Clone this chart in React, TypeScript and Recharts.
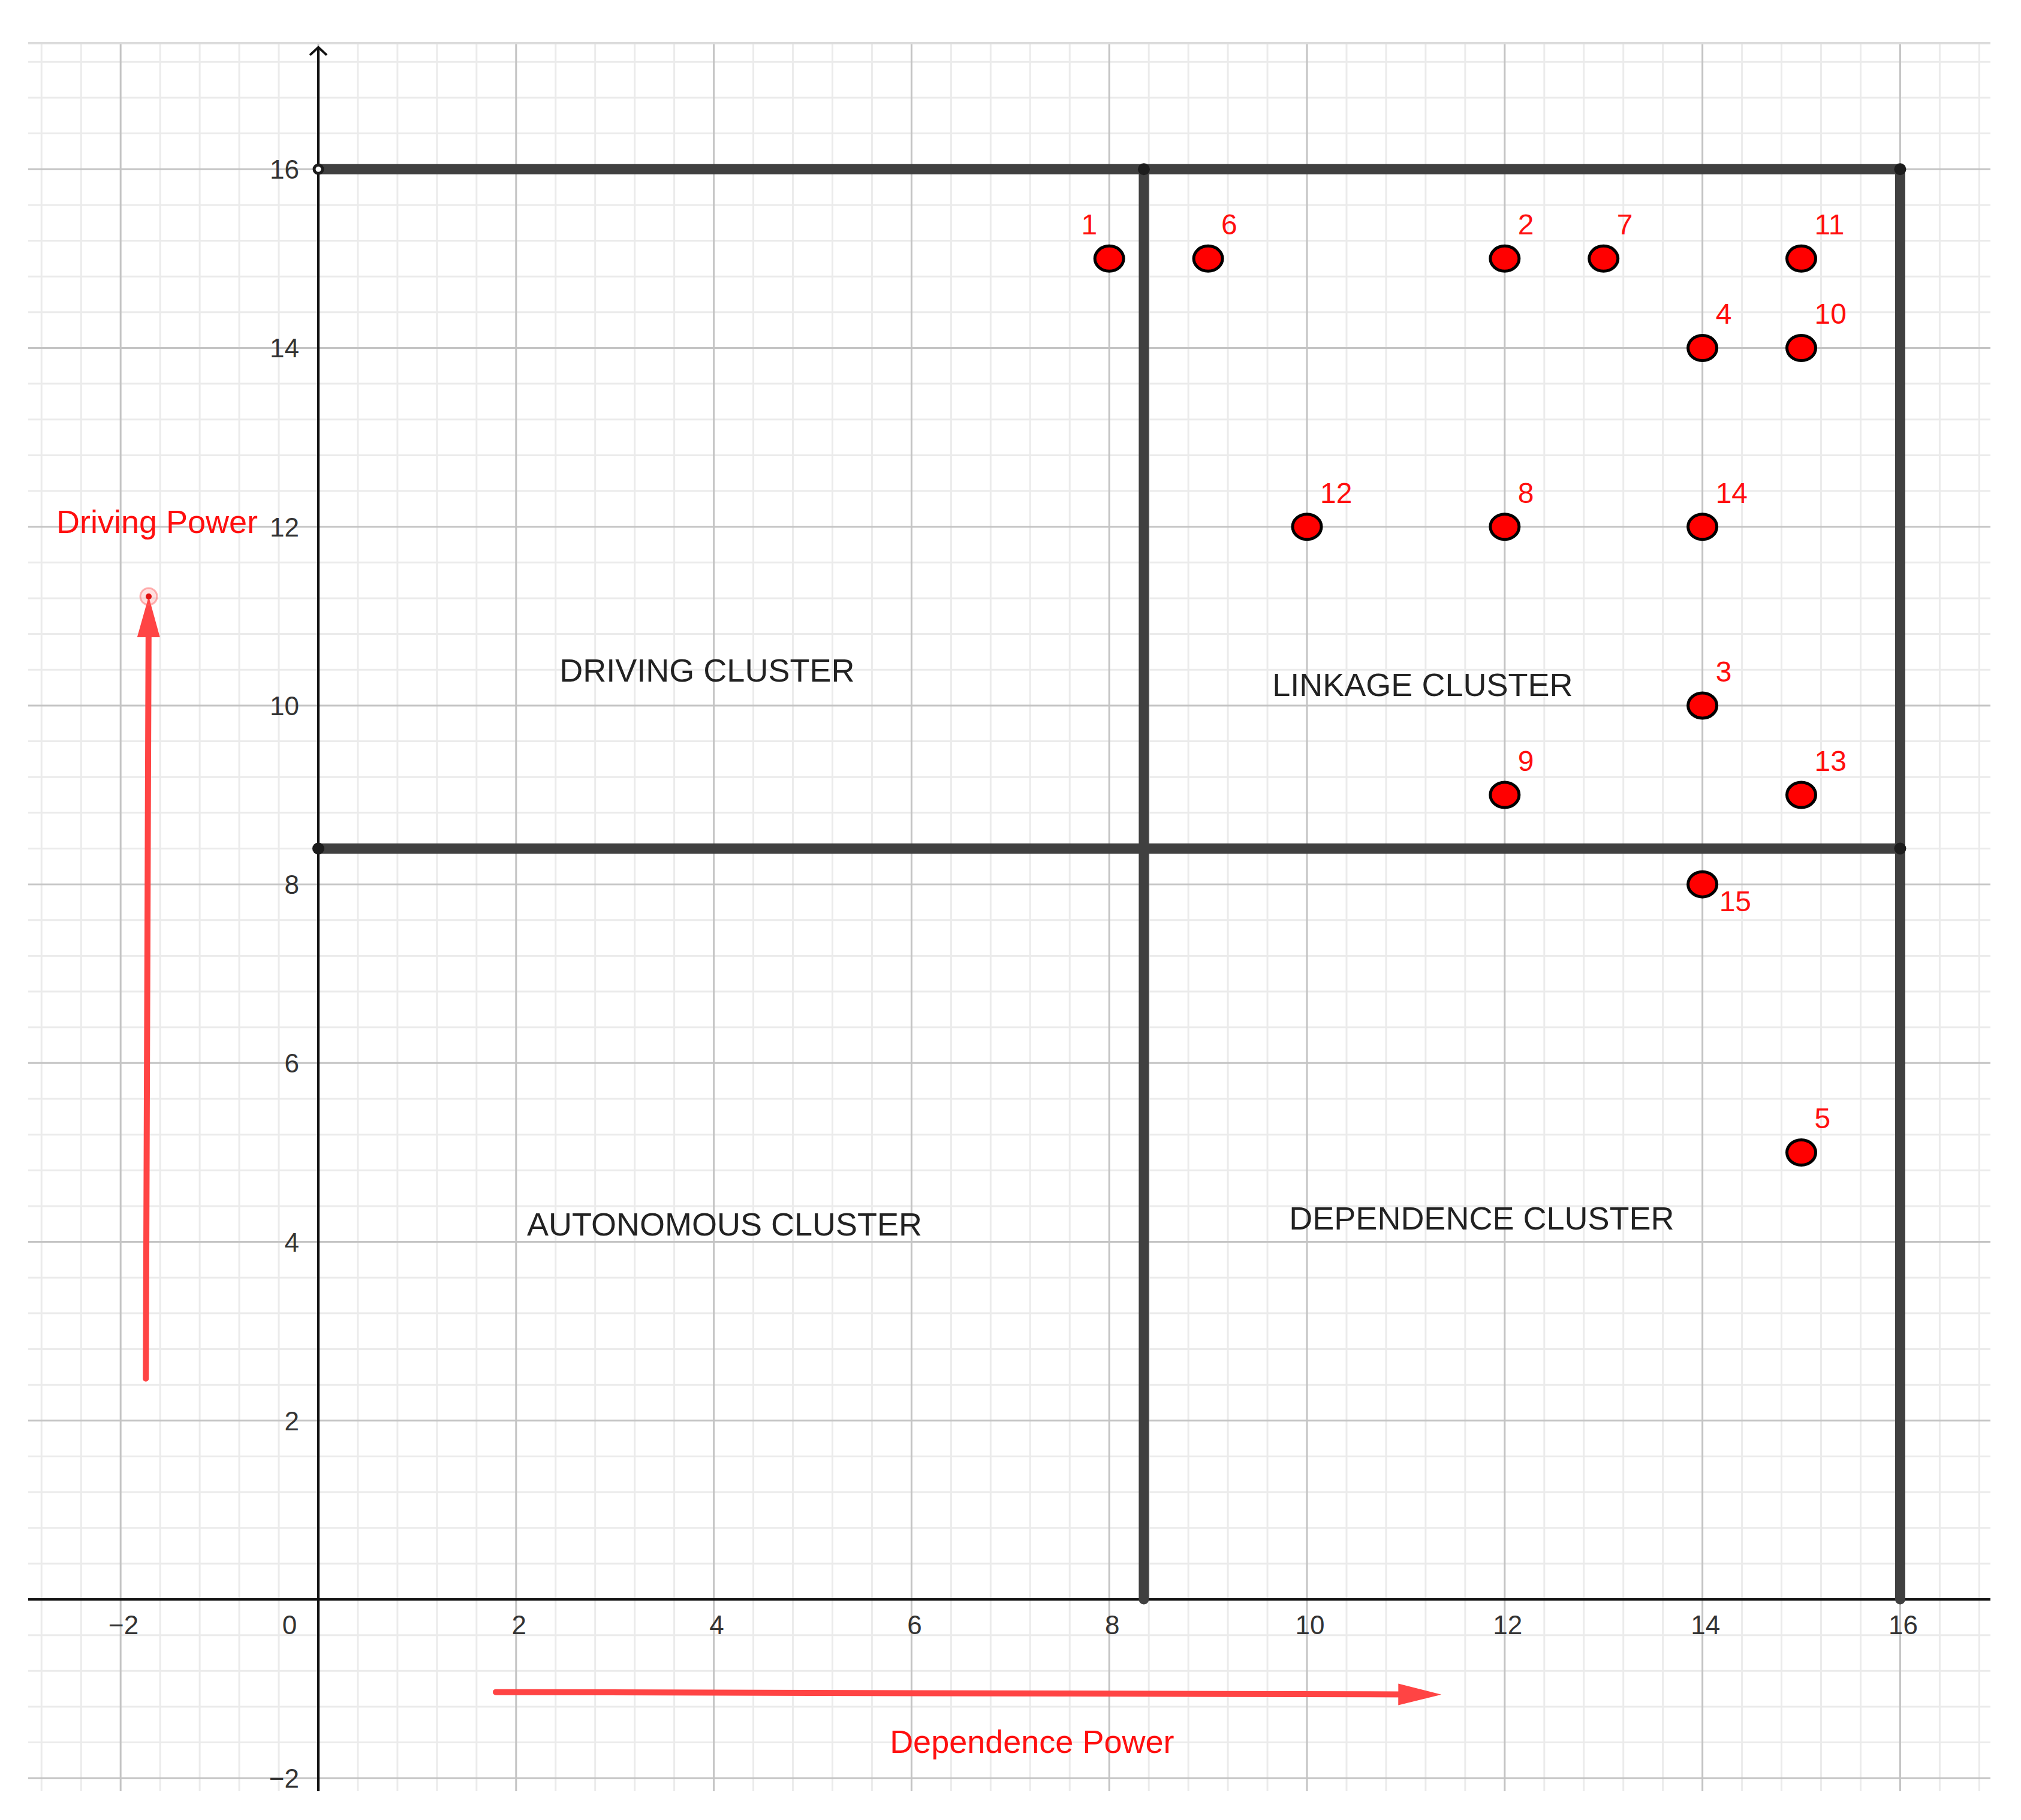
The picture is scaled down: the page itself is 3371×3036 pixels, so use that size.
import React from "react";
import {
  ScatterChart,
  Scatter,
  XAxis,
  YAxis,
  ReferenceLine,
  ReferenceDot,
} from "recharts";

// MICMAC-style driving / dependence plot
const pointIds = ["1", "6", "2", "7", "11", "4", "10", "12", "8", "14", "3", "9", "13", "15", "5"];
const dependencePower = [8, 9, 12, 13, 15, 14, 15, 10, 12, 14, 14, 12, 15, 14, 15];
const drivingPower = [15, 15, 15, 15, 15, 14, 14, 12, 12, 12, 10, 9, 9, 8, 5];

const xTickValues = [-2, 2, 4, 6, 8, 10, 12, 14, 16];
const yTickValues = [-2, 2, 4, 6, 8, 10, 12, 14, 16];

const clusterNames = ["DRIVING CLUSTER", "LINKAGE CLUSTER", "AUTONOMOUS CLUSTER", "DEPENDENCE CLUSTER"];

// where the annotations sit (data units)
const clusterAnchors: [number, number][] = [
  [2.44, 10.27],
  [9.65, 10.11],
  [2.11, 4.07],
  [9.82, 4.14],
];
const labelSide: Record<string, "above" | "left" | "below"> = { "1": "left", "15": "below" };

const BOX = 16;
const SPLIT_X = 8.35;
const SPLIT_Y = 8.4;

const X_DOMAIN: [number, number] = [-2.935, 16.913];
const Y_DOMAIN: [number, number] = [-2.146, 17.41];
const Y_AXIS_TOP = 17.364;

const drivingArrow = [
  { x: -1.745, y: 2.47 },
  { x: -1.716, y: 11.22 },
];
const dependenceArrow = [
  { x: 1.795, y: -1.037 },
  { x: 11.36, y: -1.064 },
];

const RED = "#ff0f0f";
const ARROW_RED = "#ff4444";
const BAR = "#404040";
const FONT = "'Liberation Sans', Arial, sans-serif";
const TICK_FONT = "'Liberation Sans Narrow', 'Liberation Sans', Arial, sans-serif";

const points = pointIds.map((id, i) => ({ id, x: dependencePower[i], y: drivingPower[i] }));

// minor grid every 0.4, major every 2
const xGrid = Array.from({ length: 50 }, (_, i) => Math.round((i - 7) * 4) / 10);
const yGrid = Array.from({ length: 49 }, (_, i) => Math.round((i - 5) * 4) / 10);
const isMajor = (v: number) => Math.round(v * 10) % 20 === 0;

const fmt = (v: number) => (v < 0 ? `\u2212${Math.abs(v)}` : `${v}`);

function barShape(width: number) {
  return (p: any) => (
    <line
      x1={p.x1}
      y1={p.y1}
      x2={p.x2}
      y2={p.y2}
      stroke={BAR}
      strokeWidth={width}
      strokeLinecap="round"
    />
  );
}

function arrowShape(headLen: number, headHalf: number, ring: boolean) {
  return (p: any) => {
    const dx = p.x2 - p.x1;
    const dy = p.y2 - p.y1;
    const len = Math.hypot(dx, dy) || 1;
    const ux = dx / len;
    const uy = dy / len;
    const bx = p.x2 - ux * headLen;
    const by = p.y2 - uy * headLen;
    const nx = -uy;
    const ny = ux;
    return (
      <g>
        <line
          x1={p.x1}
          y1={p.y1}
          x2={bx + ux * 4}
          y2={by + uy * 4}
          stroke={ARROW_RED}
          strokeWidth={10}
          strokeLinecap="round"
        />
        <polygon
          points={`${p.x2},${p.y2} ${bx + nx * headHalf},${by + ny * headHalf} ${bx - nx * headHalf},${by - ny * headHalf}`}
          fill={ARROW_RED}
        />
        {ring && (
          <g>
            <circle cx={p.x2} cy={p.y2} r={14} fill="rgba(255,80,80,0.18)" stroke="rgba(255,90,90,0.45)" strokeWidth={3} />
            <circle cx={p.x2} cy={p.y2} r={5} fill="#e01010" />
          </g>
        )}
      </g>
    );
  };
}

function yAxisShape(p: any) {
  return (
    <g>
      <line x1={p.x1} y1={p.y1} x2={p.x2} y2={p.y2} stroke="#111" strokeWidth={4} />
      <polyline
        points={`${p.x1 - 14},${p.y1 + 13} ${p.x1},${p.y1} ${p.x1 + 14},${p.y1 + 13}`}
        fill="none"
        stroke="#111"
        strokeWidth={4}
      />
    </g>
  );
}

function textAt(
  text: string,
  opts: { dx?: number; dy?: number; anchor?: "start" | "middle" | "end"; fill: string; size: number; family: string }
) {
  return (p: any) => (
    <text
      x={p.cx + (opts.dx ?? 0)}
      y={p.cy + (opts.dy ?? 0)}
      textAnchor={opts.anchor ?? "start"}
      fill={opts.fill}
      fontSize={opts.size}
      fontFamily={opts.family}
    >
      {text}
    </text>
  );
}

function PointMark(props: any) {
  const { cx, cy, payload } = props;
  const side = labelSide[payload.id] ?? "above";
  let lx = cx + 22;
  let ly = cy - 40;
  let anchor: "start" | "end" = "start";
  if (side === "left") {
    lx = cx - 20;
    anchor = "end";
  } else if (side === "below") {
    lx = cx + 28;
    ly = cy + 45;
  }
  return (
    <g>
      <ellipse cx={cx} cy={cy} rx={24} ry={21} fill="#ff0000" stroke="#000" strokeWidth={5} />
      <text x={lx} y={ly} textAnchor={anchor} fill={RED} fontSize={48} fontFamily={FONT}>
        {payload.id}
      </text>
    </g>
  );
}

export default function App() {
  return (
    <div style={{ position: "absolute", left: 0, top: 0, width: 3371, height: 3036, background: "#fff" }}>
      <ScatterChart width={3371} height={3036} margin={{ top: 72, right: 51, bottom: 48, left: 47 }}>
        <XAxis type="number" dataKey="x" domain={X_DOMAIN} allowDataOverflow hide />
        <YAxis type="number" dataKey="y" domain={Y_DOMAIN} allowDataOverflow hide />

        {/* grid */}
        {xGrid.filter((v) => !isMajor(v)).map((v) => (
          <ReferenceLine key={`xm${v}`} x={v} stroke="#ebebeb" strokeWidth={3} />
        ))}
        {yGrid.filter((v) => !isMajor(v)).map((v) => (
          <ReferenceLine key={`ym${v}`} y={v} stroke="#ebebeb" strokeWidth={3} />
        ))}
        {xGrid.filter(isMajor).map((v) => (
          <ReferenceLine key={`xM${v}`} x={v} stroke="#c4c4c4" strokeWidth={3} />
        ))}
        {yGrid.filter(isMajor).map((v) => (
          <ReferenceLine key={`yM${v}`} y={v} stroke="#c4c4c4" strokeWidth={3} />
        ))}
        <ReferenceLine y={Y_DOMAIN[1]} stroke="#dcdcdc" strokeWidth={4} />

        {/* axes */}
        <ReferenceLine y={0} stroke="#111" strokeWidth={4} />
        <ReferenceLine
          segment={[
            { x: 0, y: Y_AXIS_TOP },
            { x: 0, y: Y_DOMAIN[0] },
          ]}
          shape={yAxisShape}
        />

        {/* tick labels */}
        {xTickValues.map((v) => (
          <ReferenceDot
            key={`xt${v}`}
            x={v}
            y={0}
            r={1}
            shape={textAt(fmt(v), { dx: 5, dy: 58, anchor: "middle", fill: "#333", size: 44, family: TICK_FONT })}
          />
        ))}
        <ReferenceDot
          x={0}
          y={0}
          r={1}
          shape={textAt("0", { dx: -48, dy: 58, anchor: "middle", fill: "#333", size: 44, family: TICK_FONT })}
        />
        {yTickValues.map((v) => (
          <ReferenceDot
            key={`yt${v}`}
            x={0}
            y={v}
            r={1}
            shape={textAt(fmt(v), { dx: -32, dy: 16, anchor: "end", fill: "#333", size: 44, family: TICK_FONT })}
          />
        ))}

        {/* quadrant frame */}
        <ReferenceLine segment={[{ x: 0, y: BOX }, { x: BOX, y: BOX }]} shape={barShape(17)} />
        <ReferenceLine segment={[{ x: BOX, y: BOX }, { x: BOX, y: 0 }]} shape={barShape(17)} />
        <ReferenceLine segment={[{ x: SPLIT_X, y: BOX }, { x: SPLIT_X, y: 0 }]} shape={barShape(17)} />
        <ReferenceLine segment={[{ x: 0, y: SPLIT_Y }, { x: BOX, y: SPLIT_Y }]} shape={barShape(17)} />
        {[
          [BOX, BOX],
          [SPLIT_X, BOX],
          [0, SPLIT_Y],
          [BOX, SPLIT_Y],
        ].map(([cx, cy]) => (
          <ReferenceDot key={`c${cx}-${cy}`} x={cx} y={cy} r={10} fill="#1c1c1c" stroke="none" />
        ))}
        <ReferenceDot x={0} y={BOX} r={7} fill="#fff" stroke="#1c1c1c" strokeWidth={5} />

        {/* red arrows */}
        <ReferenceLine segment={drivingArrow} shape={arrowShape(68, 19, true)} />
        <ReferenceLine segment={dependenceArrow} shape={arrowShape(72, 18, false)} />

        {/* axis titles */}
        <ReferenceDot
          x={-2.65}
          y={11.93}
          r={1}
          shape={textAt("Driving Power", { fill: RED, size: 54, family: FONT })}
        />
        <ReferenceDot
          x={5.78}
          y={-1.717}
          r={1}
          shape={textAt("Dependence Power", { fill: RED, size: 54, family: FONT })}
        />

        {/* cluster names */}
        {clusterNames.map((name, i) => (
          <ReferenceDot
            key={name}
            x={clusterAnchors[i][0]}
            y={clusterAnchors[i][1]}
            r={1}
            shape={textAt(name, { fill: "#222", size: 54, family: FONT })}
          />
        ))}

        <Scatter data={points} shape={(p: any) => <PointMark {...p} />} isAnimationActive={false} />
      </ScatterChart>
    </div>
  );
}
